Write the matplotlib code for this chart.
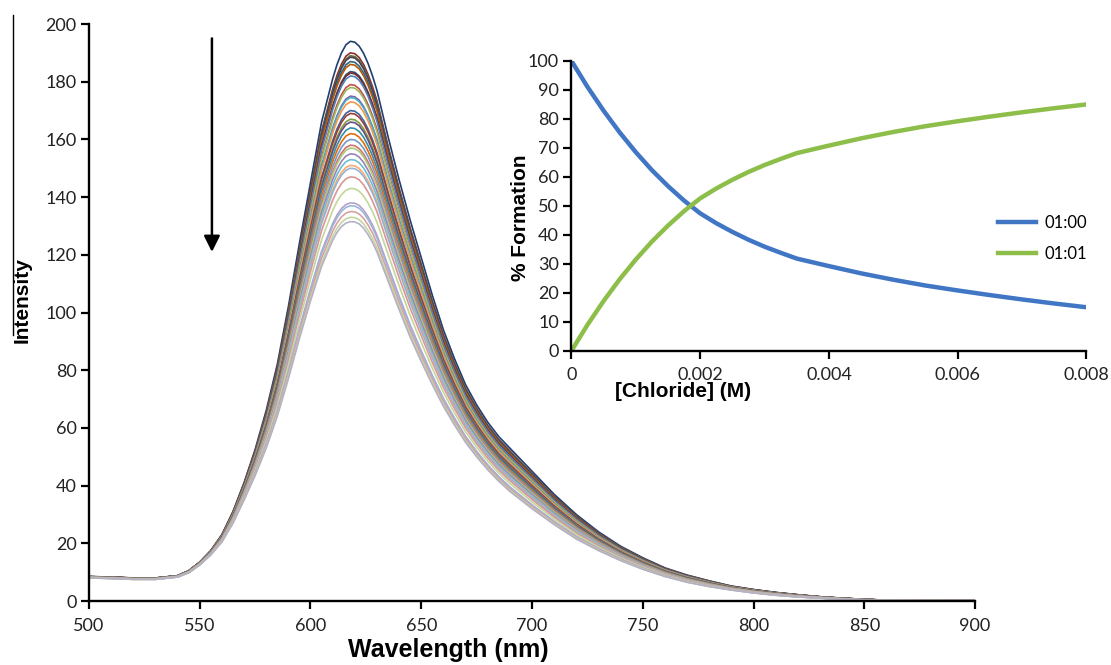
import matplotlib
matplotlib.use("Agg")
import matplotlib.pyplot as plt
from matplotlib.lines import Line2D

# emission spectra
wavelength = [500, 510, 520, 530, 540, 545, 550, 555, 560, 565, 570, 575, 580, 585, 590, 595,
              600, 605, 610, 612, 614, 616, 618, 620, 622, 624, 626, 628, 630, 635, 640, 645,
              650, 655, 660, 665, 670, 675, 680, 685, 690, 695, 700, 710, 720, 730, 740, 750,
              760, 770, 780, 790, 800, 810, 820, 830, 840, 850, 860, 875, 900]
top_spectrum = [8.5, 8.3, 8.0, 8.0, 8.8, 10.5, 13.5, 17.5, 23, 31, 41, 52.5, 66, 82, 102, 124,
                145, 166, 181, 186, 190, 192.8, 194, 193.7, 192.3, 189.8, 186.3, 182, 177, 161, 146, 132,
                119, 106, 94, 84, 75, 68, 62, 57, 53, 49, 45, 37, 30, 24, 19, 15,
                11.5, 9, 7, 5.2, 4, 3, 2.2, 1.5, 1, 0.6, 0.3, 0.2, 0.1]
bottom_spectrum = [8.0, 7.8, 7.5, 7.5, 8.3, 9.8, 12.5, 16, 20.5, 27, 35, 43.5, 53, 64, 77, 91,
                   104, 116, 125, 127.8, 129.8, 131, 131.5, 131.4, 130.7, 129.2, 127, 124.3, 121, 111, 101, 91.5,
                   83, 75, 67.5, 61, 55, 50, 45.5, 41.5, 38, 35, 32, 26.5, 21.5, 17.5, 14, 11,
                   8.5, 6.5, 5, 3.8, 2.8, 2, 1.4, 1, 0.6, 0.3, 0.2, 0.1, 0.1]
# peak heights of the individual titration spectra
peaks = [194, 190, 189, 188.5, 187, 186, 183.5, 183, 182, 179, 178, 175, 174.5, 173, 170, 169,
         167, 166, 164, 162, 160, 158, 157, 155, 153, 151, 150, 147, 143, 138, 137, 135, 133, 131.5]
colors = ['#1F3F73', '#8C2E2C', '#5F7530', '#4D3B62', '#276A7C', '#B65708', '#2C4D75', '#772C2A',
          '#4F81BD', '#C0504D', '#9BBB59', '#8064A2', '#4BACC6', '#F79646', '#3A679C', '#9F3B38',
          '#7E9D40', '#664F83', '#358EA6', '#E46C0A', '#729ACA', '#CD7371', '#AFC97A', '#9983B5',
          '#6FBDD1', '#F9AB6B', '#95B3D7', '#D99694', '#C3D69B', '#B3A2C7', '#9DB5DB', '#D9A0A0',
          '#C3D69B', '#B4B0C8']

# inset: species distribution
chloride = [0, 0.00025, 0.0005, 0.00075, 0.001, 0.00125, 0.0015, 0.00175, 0.002, 0.00225,
            0.0025, 0.00275, 0.003, 0.00325, 0.0035, 0.004, 0.0045, 0.005, 0.0055, 0.006,
            0.0065, 0.007, 0.0075, 0.008]
free_pct = [100, 91, 82.8, 75.3, 68.5, 62.3, 56.8, 51.8, 47.4, 44,
            41, 38.3, 35.9, 33.8, 31.8, 29.2, 26.7, 24.5, 22.5, 20.8,
            19.2, 17.7, 16.3, 15]
bound_pct = [0, 9, 17.2, 24.7, 31.5, 37.7, 43.2, 48.2, 52.6, 56,
             59, 61.7, 64.1, 66.2, 68.2, 70.8, 73.3, 75.5, 77.5, 79.2,
             80.8, 82.3, 83.7, 85]

plt.rcParams['font.family'] = ['Lato', 'DejaVu Sans']
tick_color = '#222222'

fig = plt.figure(figsize=(11.11, 6.65), dpi=100)
ax = fig.add_axes([0.0801, 0.0962, 0.7975, 0.8677])

p_top = peaks[0]
p_bot = peaks[-1]
for pk, c in zip(peaks, colors):
    w = (pk - p_bot) / (p_top - p_bot)
    y = [b + (t - b) * w for t, b in zip(top_spectrum, bottom_spectrum)]
    ax.plot(wavelength, y, color=c, lw=1.2)

ax.set_xlim(500, 900)
ax.set_ylim(0, 200)
ax.set_xticks(range(500, 901, 50))
ax.set_yticks(range(0, 201, 20))
for s in ['top', 'right']:
    ax.spines[s].set_visible(False)
for s in ['left', 'bottom']:
    ax.spines[s].set_linewidth(1.7)
ax.tick_params(direction='out', length=6, width=1.6, labelsize=13, colors='black',
               labelcolor=tick_color)
ax.tick_params(axis='x', pad=6)
ax.tick_params(axis='y', pad=3)

ax.annotate('', xy=(555.5, 121), xytext=(555.5, 195),
            arrowprops=dict(arrowstyle='-|>', color='black', lw=1.8, mutation_scale=24,
                            shrinkA=0, shrinkB=0))

fig.text(448 / 1111, 1 - 650 / 665, 'Wavelength (nm)', family='Liberation Sans',
         weight='bold', fontsize=18, ha='center', va='center')
fig.text(22 / 1111, 1 - 300 / 665, 'Intensity', family='Liberation Sans',
         weight='bold', fontsize=15, ha='center', va='center', rotation=90)

# stray border line at the left edge of the original
fig.add_artist(Line2D([13 / 1111, 13 / 1111], [1 - 15 / 665, 1 - 335 / 665],
                      color='black', lw=1))

# inset
ax2 = fig.add_axes([0.5144, 0.4726, 0.4635, 0.4357])
ax2.set_facecolor('none')
ax2.plot(chloride, free_pct, color='#4176C5', lw=3.2, label='01:00')
ax2.plot(chloride, bound_pct, color='#8DBE4A', lw=3.2, label='01:01')
ax2.set_xlim(0, 0.008)
ax2.set_ylim(0, 100)
ax2.set_xticks([0, 0.002, 0.004, 0.006, 0.008])
ax2.set_xticklabels(['0', '0.002', '0.004', '0.006', '0.008'])
ax2.set_yticks(range(0, 101, 10))
for s in ['top', 'right']:
    ax2.spines[s].set_visible(False)
for s in ['left', 'bottom']:
    ax2.spines[s].set_linewidth(1.7)
ax2.tick_params(direction='out', length=6, width=1.6, labelsize=13, labelcolor=tick_color)
ax2.tick_params(axis='x', pad=6)
ax2.tick_params(axis='y', pad=3)

fig.text(683 / 1111, 1 - 392 / 665, '[Chloride] (M)', family='Liberation Sans',
         weight='bold', fontsize=15, ha='center', va='center')
fig.text(520 / 1111, 1 - 218 / 665, '% Formation', family='Liberation Sans',
         weight='bold', fontsize=15, ha='center', va='center', rotation=90)

fig.legend(loc='upper left', bbox_to_anchor=(998 / 1111, 1 - 215 / 665), frameon=False,
           fontsize=12, handlelength=2.3, handletextpad=0.5, labelspacing=0.9,
           borderpad=0, borderaxespad=0)

fig.savefig('out.png', dpi=100)
